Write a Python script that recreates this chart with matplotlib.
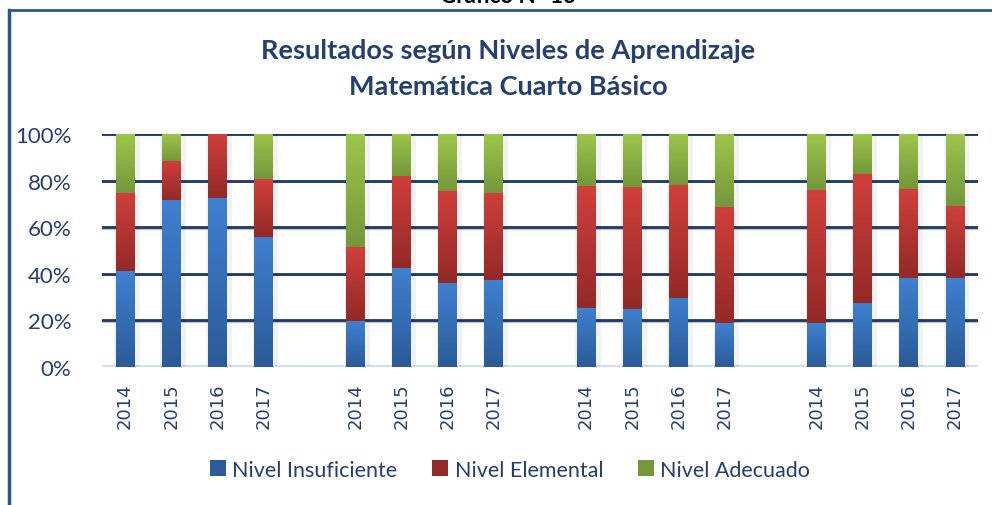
import matplotlib.pyplot as plt
import numpy as np
from matplotlib.colors import LinearSegmentedColormap
from matplotlib.patches import Patch

# Data (percent of students per level)
years = ['2014', '2015', '2016', '2017']
insuficiente = [41.0, 71.6, 72.5, 55.8,
                19.7, 42.3, 36.0, 37.2,
                25.5, 25.1, 29.8, 18.7,
                18.7, 27.3, 38.0, 38.0]
elemental = [33.7, 16.9, 27.5, 24.8,
             31.8, 39.6, 39.6, 37.5,
             52.1, 52.1, 48.2, 49.9,
             57.2, 55.5, 38.3, 31.0]
adecuado = [25.3, 11.5, 0.0, 19.4,
            48.5, 18.1, 24.4, 25.3,
            22.4, 22.8, 22.0, 31.4,
            24.1, 17.2, 23.7, 31.0]
levels = ['Nivel Insuficiente', 'Nivel Elemental', 'Nivel Adecuado']

# colours: (top, bottom) of each gradient
grad_colors = [('#3f80d0', '#2b5b98'),
               ('#d13f3b', '#932a27'),
               ('#9ec54b', '#74973a')]
navy = '#1f3864'
text_col = '#243f70'

n_groups = 4
x = np.array([g * 5 + i for g in range(n_groups) for i in range(len(years))])
labels = years * n_groups

fig = plt.figure(figsize=(9.92, 5.06), dpi=100)
ax = fig.add_axes([0.1028, 0.2727, 0.8831, 0.4605])

width = 0.41
bottom = np.zeros(len(x))
for vals, (c_top, c_bot), name in zip([insuficiente, elemental, adecuado], grad_colors, levels):
    vals = np.array(vals)
    # soft shadow
    ax.bar(x + 0.04, vals, width + 0.14, bottom=bottom, color='black', alpha=0.05,
           linewidth=0, zorder=2)
    bars = ax.bar(x, vals, width, bottom=bottom, color=c_bot, linewidth=0, zorder=3, label=name)
    cmap = LinearSegmentedColormap.from_list(name, [c_bot, c_top])
    grad = np.linspace(0, 1, 64).reshape(-1, 1)
    for p in bars:
        if p.get_height() <= 0:
            continue
        im = ax.imshow(grad, extent=(p.get_x(), p.get_x() + p.get_width(),
                                     p.get_y(), p.get_y() + p.get_height()),
                       origin='lower', cmap=cmap, aspect='auto', zorder=4)
        im.set_clip_path(p)
    bottom += vals

ax.set_xlim(-0.5, x.max() + 0.5)
ax.set_ylim(0, 100)
ax.set_yticks([0, 20, 40, 60, 80, 100])
ax.set_yticklabels(['0%', '20%', '40%', '60%', '80%', '100%'])
ax.set_xticks(x)
ax.set_xticklabels(labels, rotation=90, fontfamily='DejaVu Sans', fontsize=13, color=text_col)
ax.tick_params(axis='both', length=0)
ax.tick_params(axis='x', pad=11)
ax.tick_params(axis='y', pad=22)
for t in ax.get_yticklabels():
    t.set_fontfamily('Lato')
    t.set_fontsize(16)
    t.set_color(text_col)

# gridlines with a light shadow, light blue base line
for v in [20, 40, 60, 80, 100]:
    ax.axhline(v - 0.6, color='#b8c2d4', linewidth=1.5, zorder=1)
    ax.axhline(v, color=navy, linewidth=2, zorder=1)
ax.axhline(0, color='#cfe0f3', linewidth=3, zorder=1)
for s in ax.spines.values():
    s.set_visible(False)

# titles
fig.text(0.512, 0.90, 'Resultados según Niveles de Aprendizaje', ha='center', va='center',
         fontfamily='Lato', fontweight='bold', fontsize=19.5, color=text_col)
fig.text(0.512, 0.829, 'Matemática Cuarto Básico', ha='center', va='center',
         fontfamily='Lato', fontweight='bold', fontsize=19.5, color=text_col)
fig.text(0.512, 1 - 3 / 506, 'Gráfico N° 13', ha='center', va='baseline',
         fontfamily='Lato', fontweight='bold', fontsize=16, color='black')

# frame of the chart box
fig.add_artist(plt.Line2D([9 / 992, 9 / 992], [0, 1 - 11 / 506], color='#2f5496', linewidth=2.5))
fig.add_artist(plt.Line2D([9 / 992, 1], [1 - 11 / 506, 1 - 11 / 506], color='#2f5496', linewidth=2))

handles = [Patch(facecolor=c[1], label=n) for c, n in zip(grad_colors, levels)]
leg = fig.legend(handles=handles, loc='center', bbox_to_anchor=(0.514, 0.07), ncol=3, frameon=False,
                 prop={'family': 'Lato', 'size': 15.5}, handlelength=0.75, handleheight=0.75,
                 handletextpad=0.3, columnspacing=1.6)
for t in leg.get_texts():
    t.set_color(text_col)

plt.savefig('out.png', dpi=100)
